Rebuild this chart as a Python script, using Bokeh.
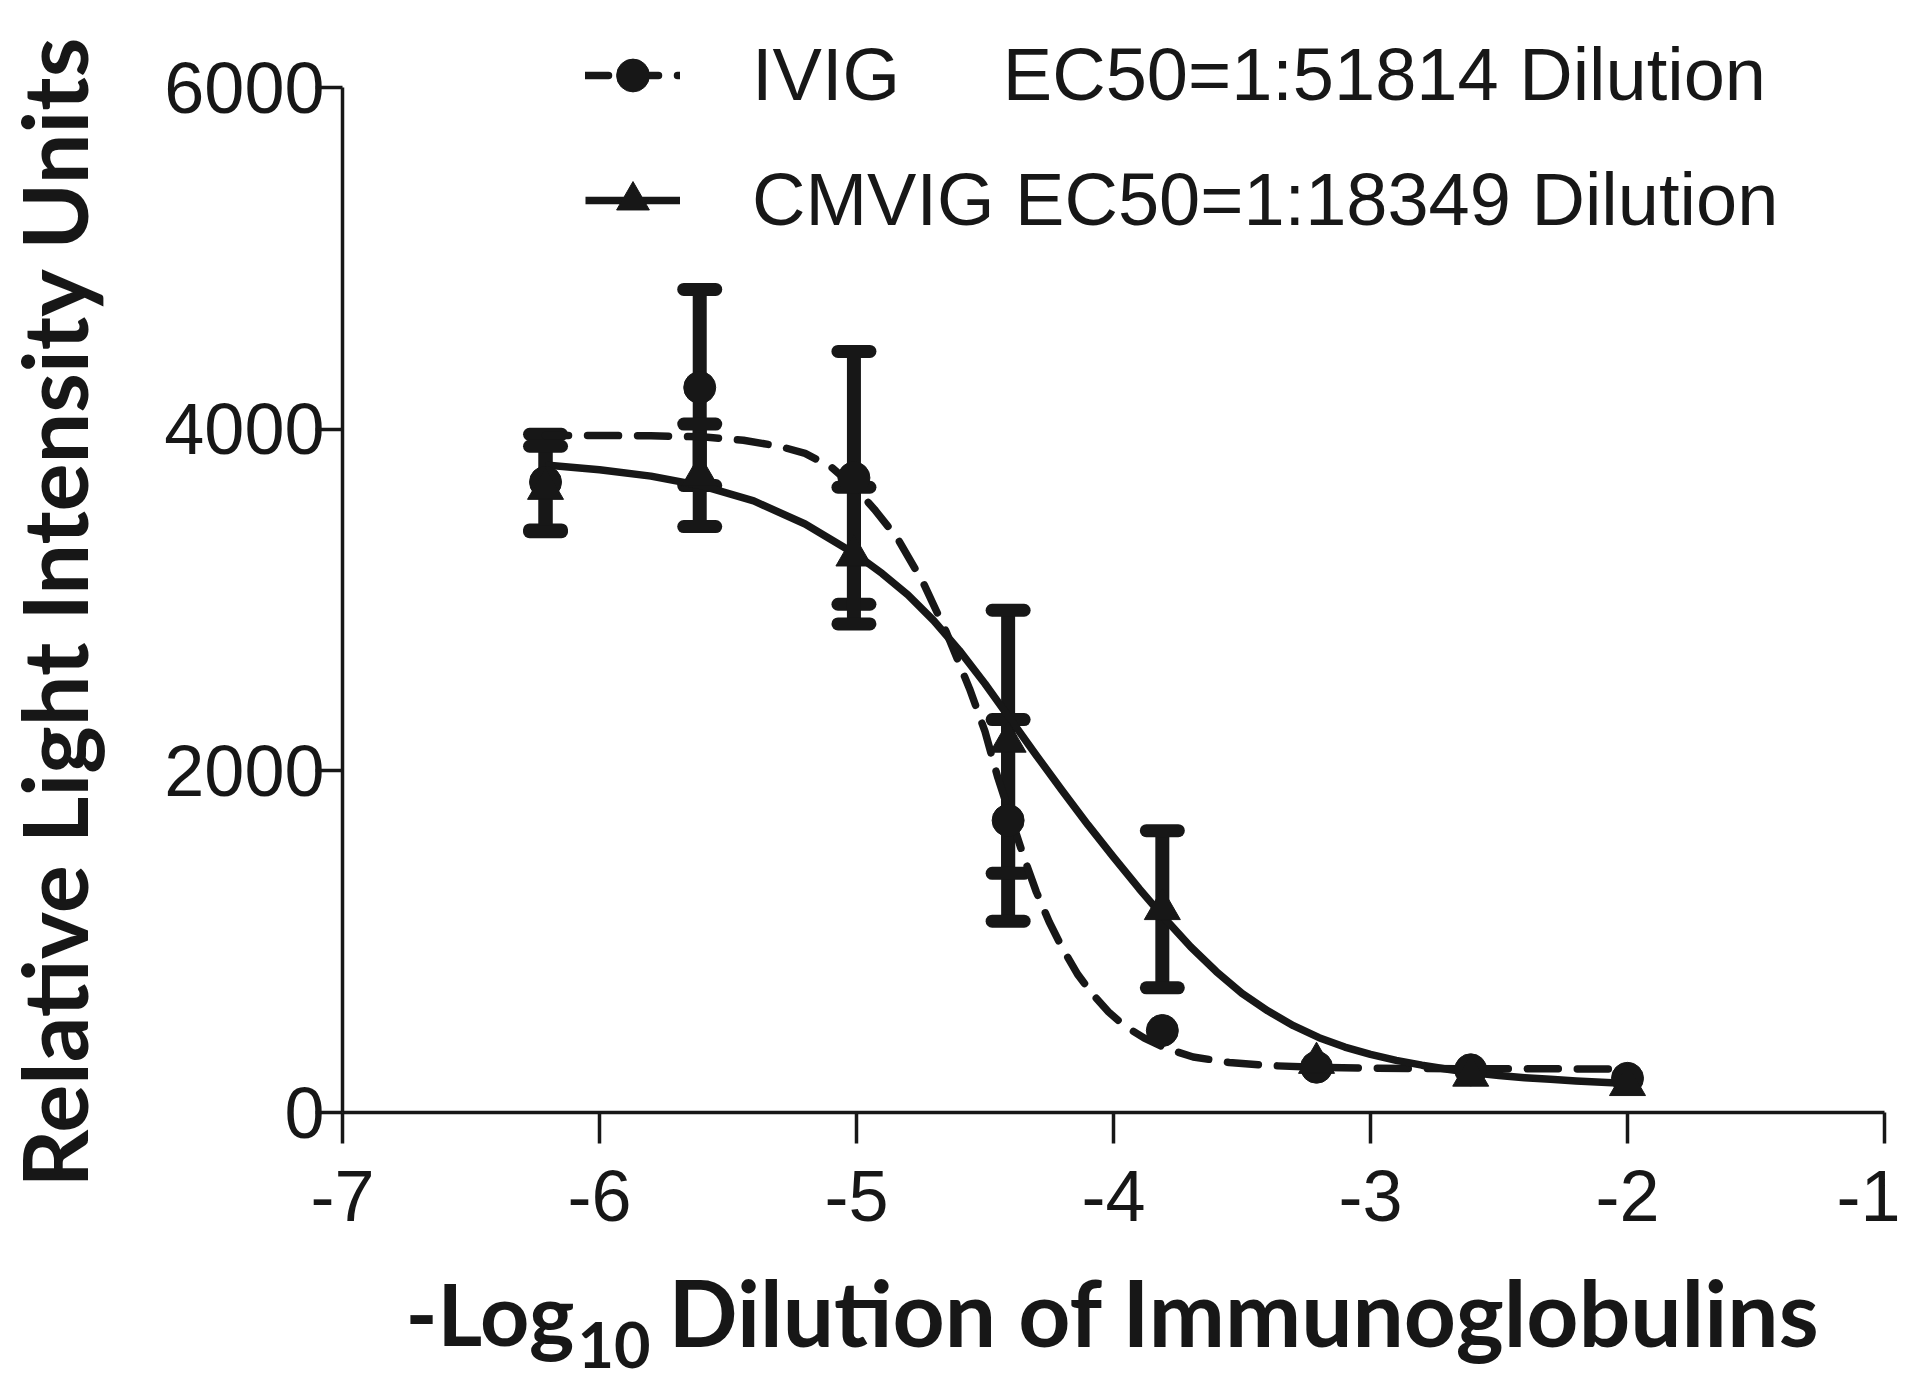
import numpy as np
from bokeh.plotting import figure
from bokeh.models import (Range1d, FixedTicker, Whisker, TeeHead, ColumnDataSource,
                          Legend, LegendItem, Label)
from bokeh.embed import file_html
from bokeh.resources import INLINE

# ---------------- data ----------------
log_dilution = [-6.21, -5.61, -5.01, -4.41, -3.81, -3.21, -2.61, -2.0]

ivig_mean = [3690, 4244, 3715, 1710, 480, 265, 250, 200]
ivig_sd = [280, 574, 740, 590, 0, 0, 0, 0]

cmvig_mean = [3650, 3730, 3260, 2170, 1190, 290, 215, 160]
cmvig_sd = [250, 300, 400, 770, 460, 0, 0, 0]

# fitted curves
ivig_fit_x = [-6.21, -6.0, -5.8, -5.6, -5.44, -5.3, -5.2, -5.1, -5.0, -4.93, -4.84,
              -4.74, -4.65, -4.56, -4.5, -4.45, -4.4, -4.35, -4.3, -4.25, -4.2,
              -4.14, -4.08, -4.02, -3.96, -3.88, -3.8, -3.69, -3.55, -3.4, -3.2,
              -3.0, -2.6, -2.0]
ivig_fit_y = [3963, 3963, 3961, 3955, 3935, 3900, 3858, 3780, 3650, 3530, 3360,
              3100, 2810, 2480, 2230, 1960, 1730, 1500, 1290, 1115, 965,
              810, 690, 590, 510, 435, 378, 325, 293, 275, 264,
              259, 256, 255]

cmvig_fit_x = [-6.21, -6.0, -5.8, -5.6, -5.4, -5.2, -5.0, -4.9, -4.8, -4.7, -4.6,
               -4.5, -4.4, -4.3, -4.2, -4.1, -4.0, -3.9, -3.8, -3.7, -3.6, -3.5,
               -3.4, -3.3, -3.2, -3.1, -3.0, -2.9, -2.8, -2.7, -2.6, -2.5, -2.4,
               -2.3, -2.2, -2.1, -2.0]
cmvig_fit_y = [3790, 3762, 3725, 3668, 3580, 3445, 3265, 3155, 3030, 2880, 2705,
               2510, 2300, 2090, 1885, 1685, 1495, 1310, 1135, 970, 825, 697,
               595, 508, 438, 383, 340, 305, 277, 253, 233, 217, 204,
               194, 185, 177, 170]

x_ticks = [-7, -6, -5, -4, -3, -2, -1]
x_tick_labels = ["-7", "-6", "-5", "-4", "-3", "-2", "-1"]
y_ticks = [0, 2000, 4000, 6000]
y_tick_labels = ["0", "2000", "4000", "6000"]

legend_labels = ["IVIG\u00a0\u00a0\u00a0\u00a0\u00a0EC50=1:51814 Dilution",
                 "CMVIG EC50=1:18349 Dilution"]
y_title = "Relative Light Intensity Units"
x_title_parts = ["-Log", "10", "Dilution of Immunoglobulins"]

# ---------------- layout ----------------
INK = "#171717"
W, H = 1900, 1380
AX_L, AX_R = 342, 1884      # pixel of x=-7 and x=-1
AX_T, AX_B = 87, 1112       # pixel of y=6000 and y=0
XA, XB = x_ticks[0], x_ticks[-1]
YA, YB = y_ticks[0], y_ticks[-1]
sx = (AX_R - AX_L) / (XB - XA)
sy = (AX_B - AX_T) / (YB - YA)

def dx(px):
    return XA + (px - AX_L) / sx

def dy(py):
    return YA + (AX_B - py) / sy

p = figure(frame_width=W, frame_height=H, min_border=0,
           min_border_left=0, min_border_right=0, min_border_top=0, min_border_bottom=0,
           x_range=Range1d(dx(0), dx(W)), y_range=Range1d(dy(H), dy(0)),
           output_backend="svg", toolbar_location=None,
           background_fill_color="white", border_fill_color="white")
p.outline_line_color = None
p.grid.visible = False

p.xaxis.fixed_location = YA
p.yaxis.fixed_location = XA
p.xaxis.bounds = (XA, XB)
p.yaxis.bounds = (YA, YB)
p.xaxis.ticker = FixedTicker(ticks=x_ticks)
p.xaxis.major_label_overrides = {t: s for t, s in zip(x_ticks, x_tick_labels)}
p.yaxis.ticker = FixedTicker(ticks=y_ticks)
p.yaxis.major_label_overrides = {t: s for t, s in zip(y_ticks, y_tick_labels)}

for ax in (p.xaxis[0], p.yaxis[0]):
    ax.axis_line_color = INK
    ax.axis_line_width = 3.5
    ax.major_tick_line_color = INK
    ax.major_tick_line_width = 3.5
    ax.major_tick_in = 0
    ax.minor_tick_line_color = None
    ax.major_label_text_font = "Liberation Sans"
    ax.major_label_text_font_size = "72px"
    ax.major_label_text_color = INK
p.xaxis.major_tick_out = 31
p.xaxis.major_label_standoff = 27
p.yaxis.major_tick_out = 27
p.yaxis.major_label_standoff = -9

# error bars
def whisker_source(xs, m, sd):
    rows = [(x, mm - s, mm + s) for x, mm, s in zip(xs, m, sd) if s > 0]
    return ColumnDataSource(dict(x=[r[0] for r in rows], lo=[r[1] for r in rows],
                                 hi=[r[2] for r in rows]))

for m, sd in ((ivig_mean, ivig_sd), (cmvig_mean, cmvig_sd)):
    src = whisker_source(log_dilution, m, sd)
    w = Whisker(source=src, base="x", lower="lo", upper="hi", dimension="height",
                line_color=INK, line_width=14,
                upper_head=TeeHead(size=32, line_color=INK, line_width=13, line_cap="round"),
                lower_head=TeeHead(size=32, line_color=INK, line_width=13, line_cap="round"))
    p.add_layout(w)

ivig_line = p.line(ivig_fit_x, ivig_fit_y, line_color=INK, line_width=7.5,
                   line_dash="31 19", line_dash_offset=8,
                   line_cap="round", line_join="round")
cmvig_line = p.line(cmvig_fit_x, cmvig_fit_y, line_color=INK, line_width=7.5,
                    line_join="round")
ivig_pts = p.scatter(log_dilution, ivig_mean, marker="circle", size=32,
                     fill_color=INK, line_color=INK)
cmvig_pts = p.scatter(log_dilution, cmvig_mean, marker="triangle", size=36,
                      fill_color=INK, line_color=INK)

legend = Legend(items=[LegendItem(label=legend_labels[0], renderers=[ivig_line, ivig_pts]),
                       LegendItem(label=legend_labels[1], renderers=[cmvig_line, cmvig_pts])],
                location=(585, H - 242), orientation="vertical",
                label_text_font="Liberation Sans", label_text_font_size="74px",
                label_text_color=INK, glyph_width=95, glyph_height=82,
                label_standoff=72, spacing=40, padding=0, margin=0,
                border_line_color=None, background_fill_alpha=0)
p.add_layout(legend, "center")

# axis titles (Label anchors sit ~0.38 em below the baseline, hence the shifts)
p.add_layout(Label(x=dx(85 - 33), y=dy(611), text=y_title, angle=np.pi / 2,
                   text_font="Lato", text_font_style="bold", text_font_size="90px",
                   text_color=INK, text_align="center", text_baseline="alphabetic"))
p.add_layout(Label(x=dx(405), y=dy(1345 - 33), text=x_title_parts[0],
                   text_font="Lato", text_font_style="bold", text_font_size="86px",
                   text_color=INK, text_align="left", text_baseline="alphabetic"))
p.add_layout(Label(x=dx(577), y=dy(1368 - 24), text=x_title_parts[1],
                   text_font="Lato", text_font_style="bold", text_font_size="63px",
                   text_color=INK, text_align="left", text_baseline="alphabetic"))
p.add_layout(Label(x=dx(668), y=dy(1345 - 34), text=x_title_parts[2],
                   text_font="Lato", text_font_style="bold", text_font_size="91px",
                   text_color=INK, text_align="left", text_baseline="alphabetic"))

open("out.html", "w").write(file_html(p, INLINE))
